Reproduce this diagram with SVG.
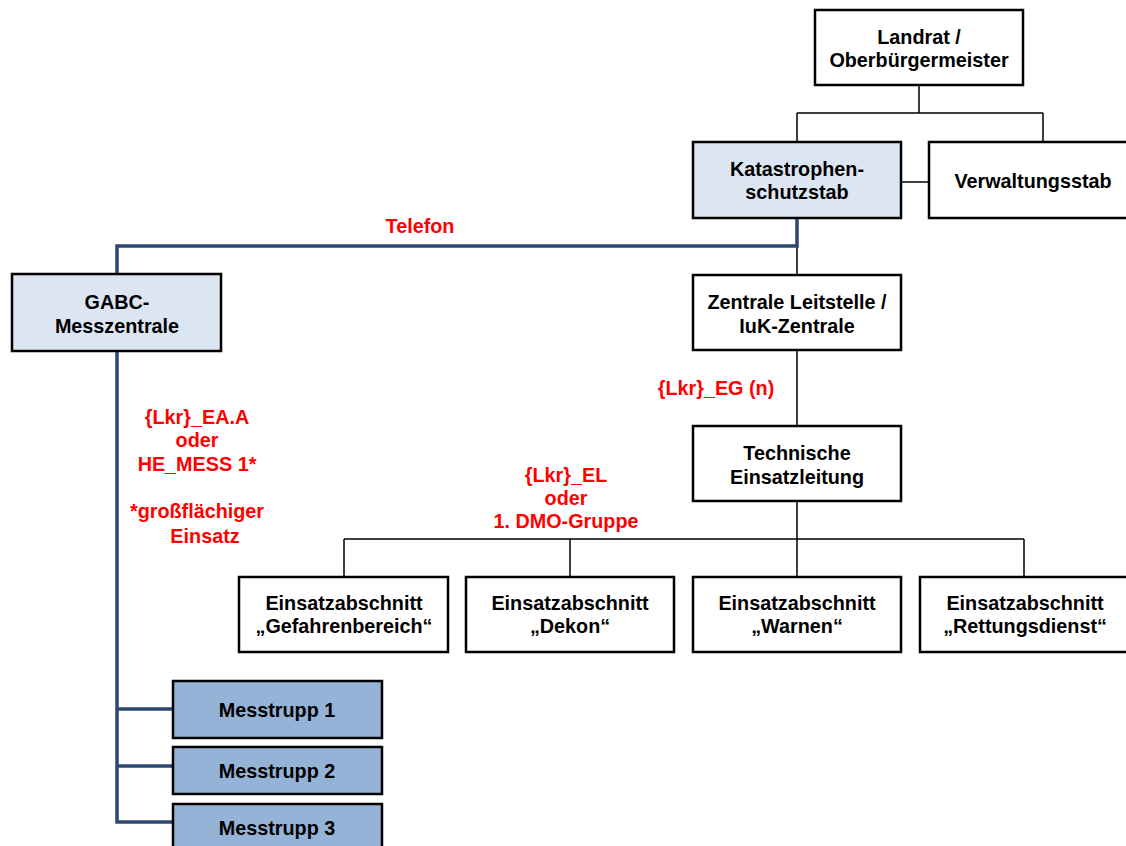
<svg xmlns="http://www.w3.org/2000/svg" width="1126" height="846" viewBox="0 0 1126 846">
<style>
.box{stroke:#000;stroke-width:2.5;fill:#fff}
.lb{fill:#dce6f2}
.mb{fill:#95b3d7}
.t{font-family:"Liberation Sans",Arial,sans-serif;font-weight:bold;font-size:19.8px;text-anchor:middle;fill:#000}
.r{fill:#ff0000}
.c{stroke:#000;stroke-width:1.5;fill:none}
.d{stroke:#2c4770;stroke-width:3.5;fill:none}
</style>
<rect width="1126" height="846" fill="#fff"/>
<g id="connectors">
<path class="c" d="M919,85V113M797,113H1043M797,113V142M1043,113V142"/>
<path class="c" d="M901,182H929"/>
<path class="c" d="M797,246V275M797,350V426M797,501V539M344,539H1024M344,539V577M570,539V577M797,539V577M1024,539V577"/>
<path class="d" d="M797,218V246H117V274M117,351V822H173M117,709H173M117,766H173"/>
</g>
<g id="landrat"><rect class="box" x="815" y="10" width="208" height="75"/><text class="t" x="919" y="44">Landrat /</text><text class="t" x="919" y="67">Oberbürgermeister</text></g>
<g id="kats"><rect class="box lb" x="693" y="142" width="208" height="76"/><text class="t" x="797" y="176">Katastrophen-</text><text class="t" x="797" y="199">schutzstab</text></g>
<g id="verw"><rect class="box" x="929" y="142" width="200" height="76"/><text class="t" x="1033" y="188">Verwaltungsstab</text></g>
<g id="gabc"><rect class="box lb" x="12" y="274" width="209" height="77"/><text class="t" x="117" y="309">GABC-</text><text class="t" x="117" y="333">Messzentrale</text></g>
<g id="zls"><rect class="box" x="693" y="275" width="208" height="75"/><text class="t" x="797" y="309">Zentrale Leitstelle /</text><text class="t" x="797" y="333">IuK-Zentrale</text></g>
<g id="tel"><rect class="box" x="693" y="426" width="208" height="75"/><text class="t" x="797" y="460">Technische</text><text class="t" x="797" y="484">Einsatzleitung</text></g>
<g id="ea1"><rect class="box" x="239" y="577" width="209" height="75"/><text class="t" x="344" y="610">Einsatzabschnitt</text><text class="t" x="344" y="633">„Gefahrenbereich“</text></g>
<g id="ea2"><rect class="box" x="466" y="577" width="208" height="75"/><text class="t" x="570" y="610">Einsatzabschnitt</text><text class="t" x="570" y="633">„Dekon“</text></g>
<g id="ea3"><rect class="box" x="693" y="577" width="208" height="75"/><text class="t" x="797" y="610">Einsatzabschnitt</text><text class="t" x="797" y="633">„Warnen“</text></g>
<g id="ea4"><rect class="box" x="920" y="577" width="210" height="75"/><text class="t" x="1025" y="610">Einsatzabschnitt</text><text class="t" x="1025" y="633">„Rettungsdienst“</text></g>
<g id="mt1"><rect class="box mb" x="173" y="681" width="209" height="57"/><text class="t" x="277" y="717">Messtrupp 1</text></g>
<g id="mt2"><rect class="box mb" x="173" y="747" width="209" height="47"/><text class="t" x="277" y="778">Messtrupp 2</text></g>
<g id="mt3"><rect class="box mb" x="173" y="804" width="209" height="60"/><text class="t" x="277" y="835">Messtrupp 3</text></g>
<g id="labels">
<text class="t r" x="420" y="233">Telefon</text>
<text class="t r" x="716" y="395">{Lkr}_EG (n)</text>
<text class="t r" x="197" y="424">{Lkr}_EA.A</text>
<text class="t r" x="197" y="447">oder</text>
<text class="t r" x="197" y="471">HE_MESS 1*</text>
<text class="t r" x="197" y="518">*großflächiger</text>
<text class="t r" x="205" y="543">Einsatz</text>
<text class="t r" x="566" y="482">{Lkr}_EL</text>
<text class="t r" x="566" y="505">oder</text>
<text class="t r" x="566" y="528">1. DMO-Gruppe</text>
</g>
</svg>
